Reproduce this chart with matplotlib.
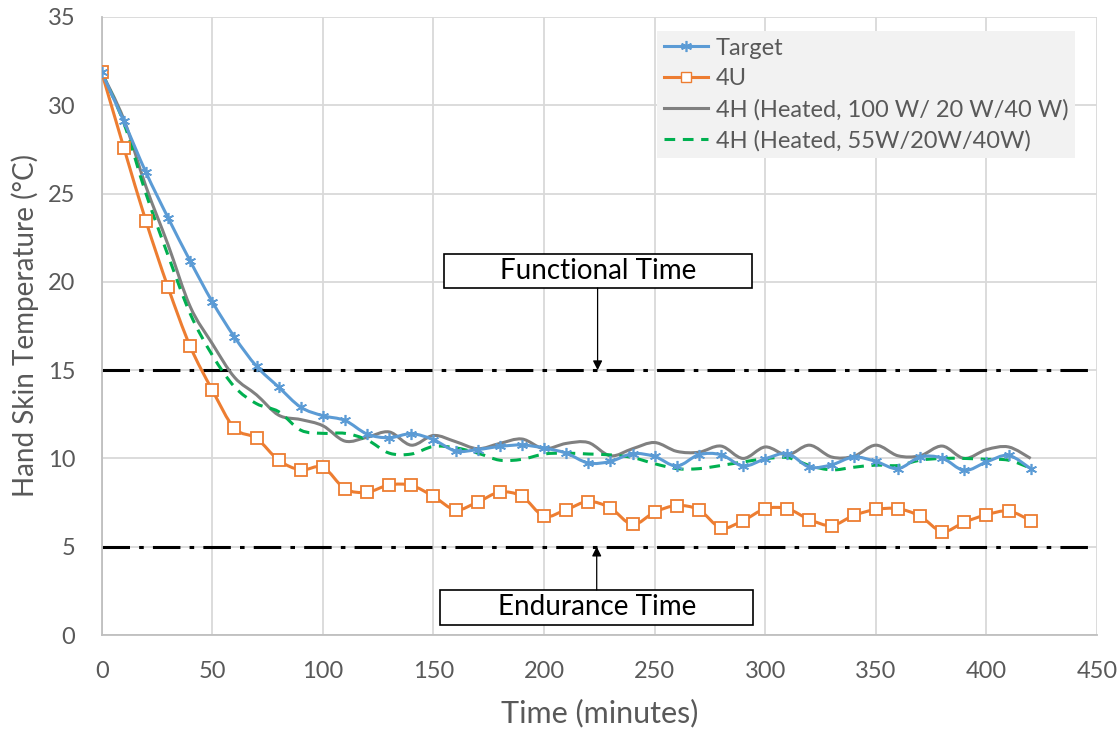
import numpy as np
import matplotlib
matplotlib.use("Agg")
import matplotlib.pyplot as plt
from matplotlib.path import Path
from matplotlib.patches import PathPatch, Rectangle
from matplotlib.lines import Line2D

plt.rcParams['font.family'] = ['Lato', 'DejaVu Sans']

# time axis (minutes), one reading every 10 min
time = np.arange(0, 430, 10)

target = [31.86, 29.1, 26.2, 23.63, 21.18, 18.87, 16.88, 15.22, 14.04, 12.9,
          12.42, 12.15, 11.38, 11.17, 11.4, 11.06, 10.42, 10.5, 10.68, 10.76,
          10.59, 10.3, 9.74, 9.83, 10.27, 10.11, 9.57, 10.21, 10.21, 9.57,
          9.98, 10.27, 9.51, 9.64, 10.08, 9.83, 9.42, 10.08, 10.02, 9.32,
          9.8, 10.17, 9.42]

u4 = [31.86, 27.6, 23.44, 19.69, 16.35, 13.87, 11.71, 11.14, 9.9, 9.35,
      9.5, 8.28, 8.09, 8.5, 8.47, 7.85, 7.09, 7.53, 8.09, 7.85,
      6.73, 7.1, 7.56, 7.19, 6.26, 6.96, 7.33, 7.09, 6.07, 6.48,
      7.15, 7.15, 6.54, 6.2, 6.77, 7.11, 7.15, 6.73, 5.86, 6.39,
      6.81, 7.02, 6.48]

h4_100 = [31.86, 29.2, 25.4, 22.1, 18.6, 16.5, 14.6, 13.6, 12.45, 12.2,
          11.85, 10.98, 11.2, 11.5, 10.75, 11.3, 10.95, 10.55, 10.85, 11.1,
          10.55, 10.85, 10.9, 10.15, 10.55, 10.9, 10.4, 10.35, 10.7, 10.0,
          10.65, 10.2, 10.75, 10.08, 10.12, 10.75, 10.15, 10.15, 10.7, 10.0,
          10.5, 10.65, 10.0]

h4_55 = [31.86, 29.0, 25.0, 21.5, 18.2, 15.85, 14.06, 13.1, 12.65, 11.6,
         11.42, 11.42, 11.05, 10.3, 10.25, 10.68, 10.6, 10.3, 9.9, 9.95,
         10.25, 10.3, 10.25, 10.2, 10.05, 9.7, 9.42, 9.42, 9.6, 9.8,
         9.98, 10.05, 9.6, 9.35, 9.5, 9.62, 9.6, 9.9, 10.0, 10.0,
         9.95, 9.9, 9.45]

labels = ['Target', '4U', '4H (Heated, 100 W/ 20 W/40 W)', '4H (Heated, 55W/20W/40W)']
functional_temp = 15
endurance_temp = 5

c_target = '#5B9BD5'
c_4u = '#ED7D31'
c_gray = '#808080'
c_green = '#00B050'
txt = '#595959'


def smooth_path(x, y):
    # Excel-style smoothed line: cubic bezier segments through every point
    x = np.asarray(x, float)
    y = np.asarray(y, float)
    pts = np.column_stack([x, y])
    verts = [pts[0]]
    codes = [Path.MOVETO]
    n = len(pts)
    for i in range(n - 1):
        p0 = pts[i - 1] if i > 0 else pts[i]
        p1 = pts[i]
        p2 = pts[i + 1]
        p3 = pts[i + 2] if i + 2 < n else pts[i + 1]
        verts += [p1 + (p2 - p0) / 6, p2 - (p3 - p1) / 6, p2]
        codes += [Path.CURVE4] * 3
    return Path(verts, codes)


fig = plt.figure(figsize=(11.2, 7.32), dpi=100)
ax = fig.add_axes([0.0908, 0.1325, 0.8887, 0.8443])

ax.set_xlim(0, 450)
ax.set_ylim(0, 35)
ax.set_xticks(np.arange(0, 451, 50))
ax.set_yticks(np.arange(0, 36, 5))
ax.grid(True, color='#d9d9d9', linewidth=1.3)
ax.set_axisbelow(True)
for s in ['top', 'right']:
    ax.spines[s].set_visible(False)
for s in ['left', 'bottom']:
    ax.spines[s].set_color('#bfbfbf')
    ax.spines[s].set_linewidth(1.3)
ax.tick_params(length=0, labelsize=17, colors=txt)
ax.tick_params(axis='y', pad=19)
ax.tick_params(axis='x', pad=19)

# threshold lines
dd = dict(color='black', linewidth=2.2, dashes=(9, 3, 1.5, 3), zorder=2)
ax.axhline(functional_temp, **dd)
ax.axhline(endurance_temp, **dd)

series = [
    (h4_100, c_gray, '-', None),
    (h4_55, c_green, (0, (3.5, 2.5)), None),
    (u4, c_4u, '-', 's'),
    (target, c_target, '-', (6, 2, 0)),
]
for vals, col, ls, mk in series:
    ax.add_patch(PathPatch(smooth_path(time, vals), facecolor='none', edgecolor=col,
                           linewidth=2.2, linestyle=ls, zorder=3))
    if mk == 's':
        ax.plot(time, vals, linestyle='none', marker='s', markersize=8,
                markerfacecolor='white', markeredgecolor=col, markeredgewidth=1.3, zorder=4)
    elif mk is not None:
        ax.plot(time, vals, linestyle='none', marker=mk, markersize=8,
                markeredgecolor=col, markeredgewidth=1.2, zorder=4)

# annotation boxes with arrows
ax.add_patch(Rectangle((154.7, 19.65), 139.3, 1.92, facecolor='white',
                       edgecolor='black', linewidth=1.2, zorder=5))
ax.text(224.4, 20.6, 'Functional Time', ha='center', va='center', fontsize=20, zorder=6)
ax.annotate('', xy=(224.2, functional_temp), xytext=(224.2, 19.65),
            arrowprops=dict(arrowstyle='-|>', color='black', lw=0.9,
                            mutation_scale=14, shrinkA=0, shrinkB=0), zorder=5)

ax.add_patch(Rectangle((152.9, 0.57), 141.4, 1.98, facecolor='white',
                       edgecolor='black', linewidth=1.2, zorder=5))
ax.text(223.8, 1.56, 'Endurance Time', ha='center', va='center', fontsize=20, zorder=6)
ax.annotate('', xy=(223.8, endurance_temp), xytext=(223.8, 2.55),
            arrowprops=dict(arrowstyle='-|>', color='black', lw=0.9,
                            mutation_scale=14, shrinkA=0, shrinkB=0), zorder=5)

ax.set_xlabel('Time (minutes)', fontsize=22, color=txt, labelpad=12)
ax.set_ylabel('Hand Skin Temperature (°C)', fontsize=20, color=txt, labelpad=6)

handles = [
    Line2D([], [], color=c_target, lw=2.2, marker=(6, 2, 0), markersize=8,
           markeredgecolor=c_target, markeredgewidth=1.2),
    Line2D([], [], color=c_4u, lw=2.2, marker='s', markersize=7,
           markerfacecolor='white', markeredgecolor=c_4u),
    Line2D([], [], color=c_gray, lw=2.2),
    Line2D([], [], color=c_green, lw=2.2, linestyle=(0, (3.5, 2.5))),
]
leg = ax.legend(handles, labels, loc='upper right', bbox_to_anchor=(0.99, 0.997),
                fontsize=17, frameon=True, fancybox=False, handlelength=1.9,
                handletextpad=0.3, borderpad=0.3, labelspacing=0.4, labelcolor=txt)
leg.get_frame().set_facecolor('#f2f2f2')
leg.get_frame().set_edgecolor('none')
leg.get_frame().set_alpha(1)
leg.set_zorder(7)

fig.savefig('out.png', dpi=100)
